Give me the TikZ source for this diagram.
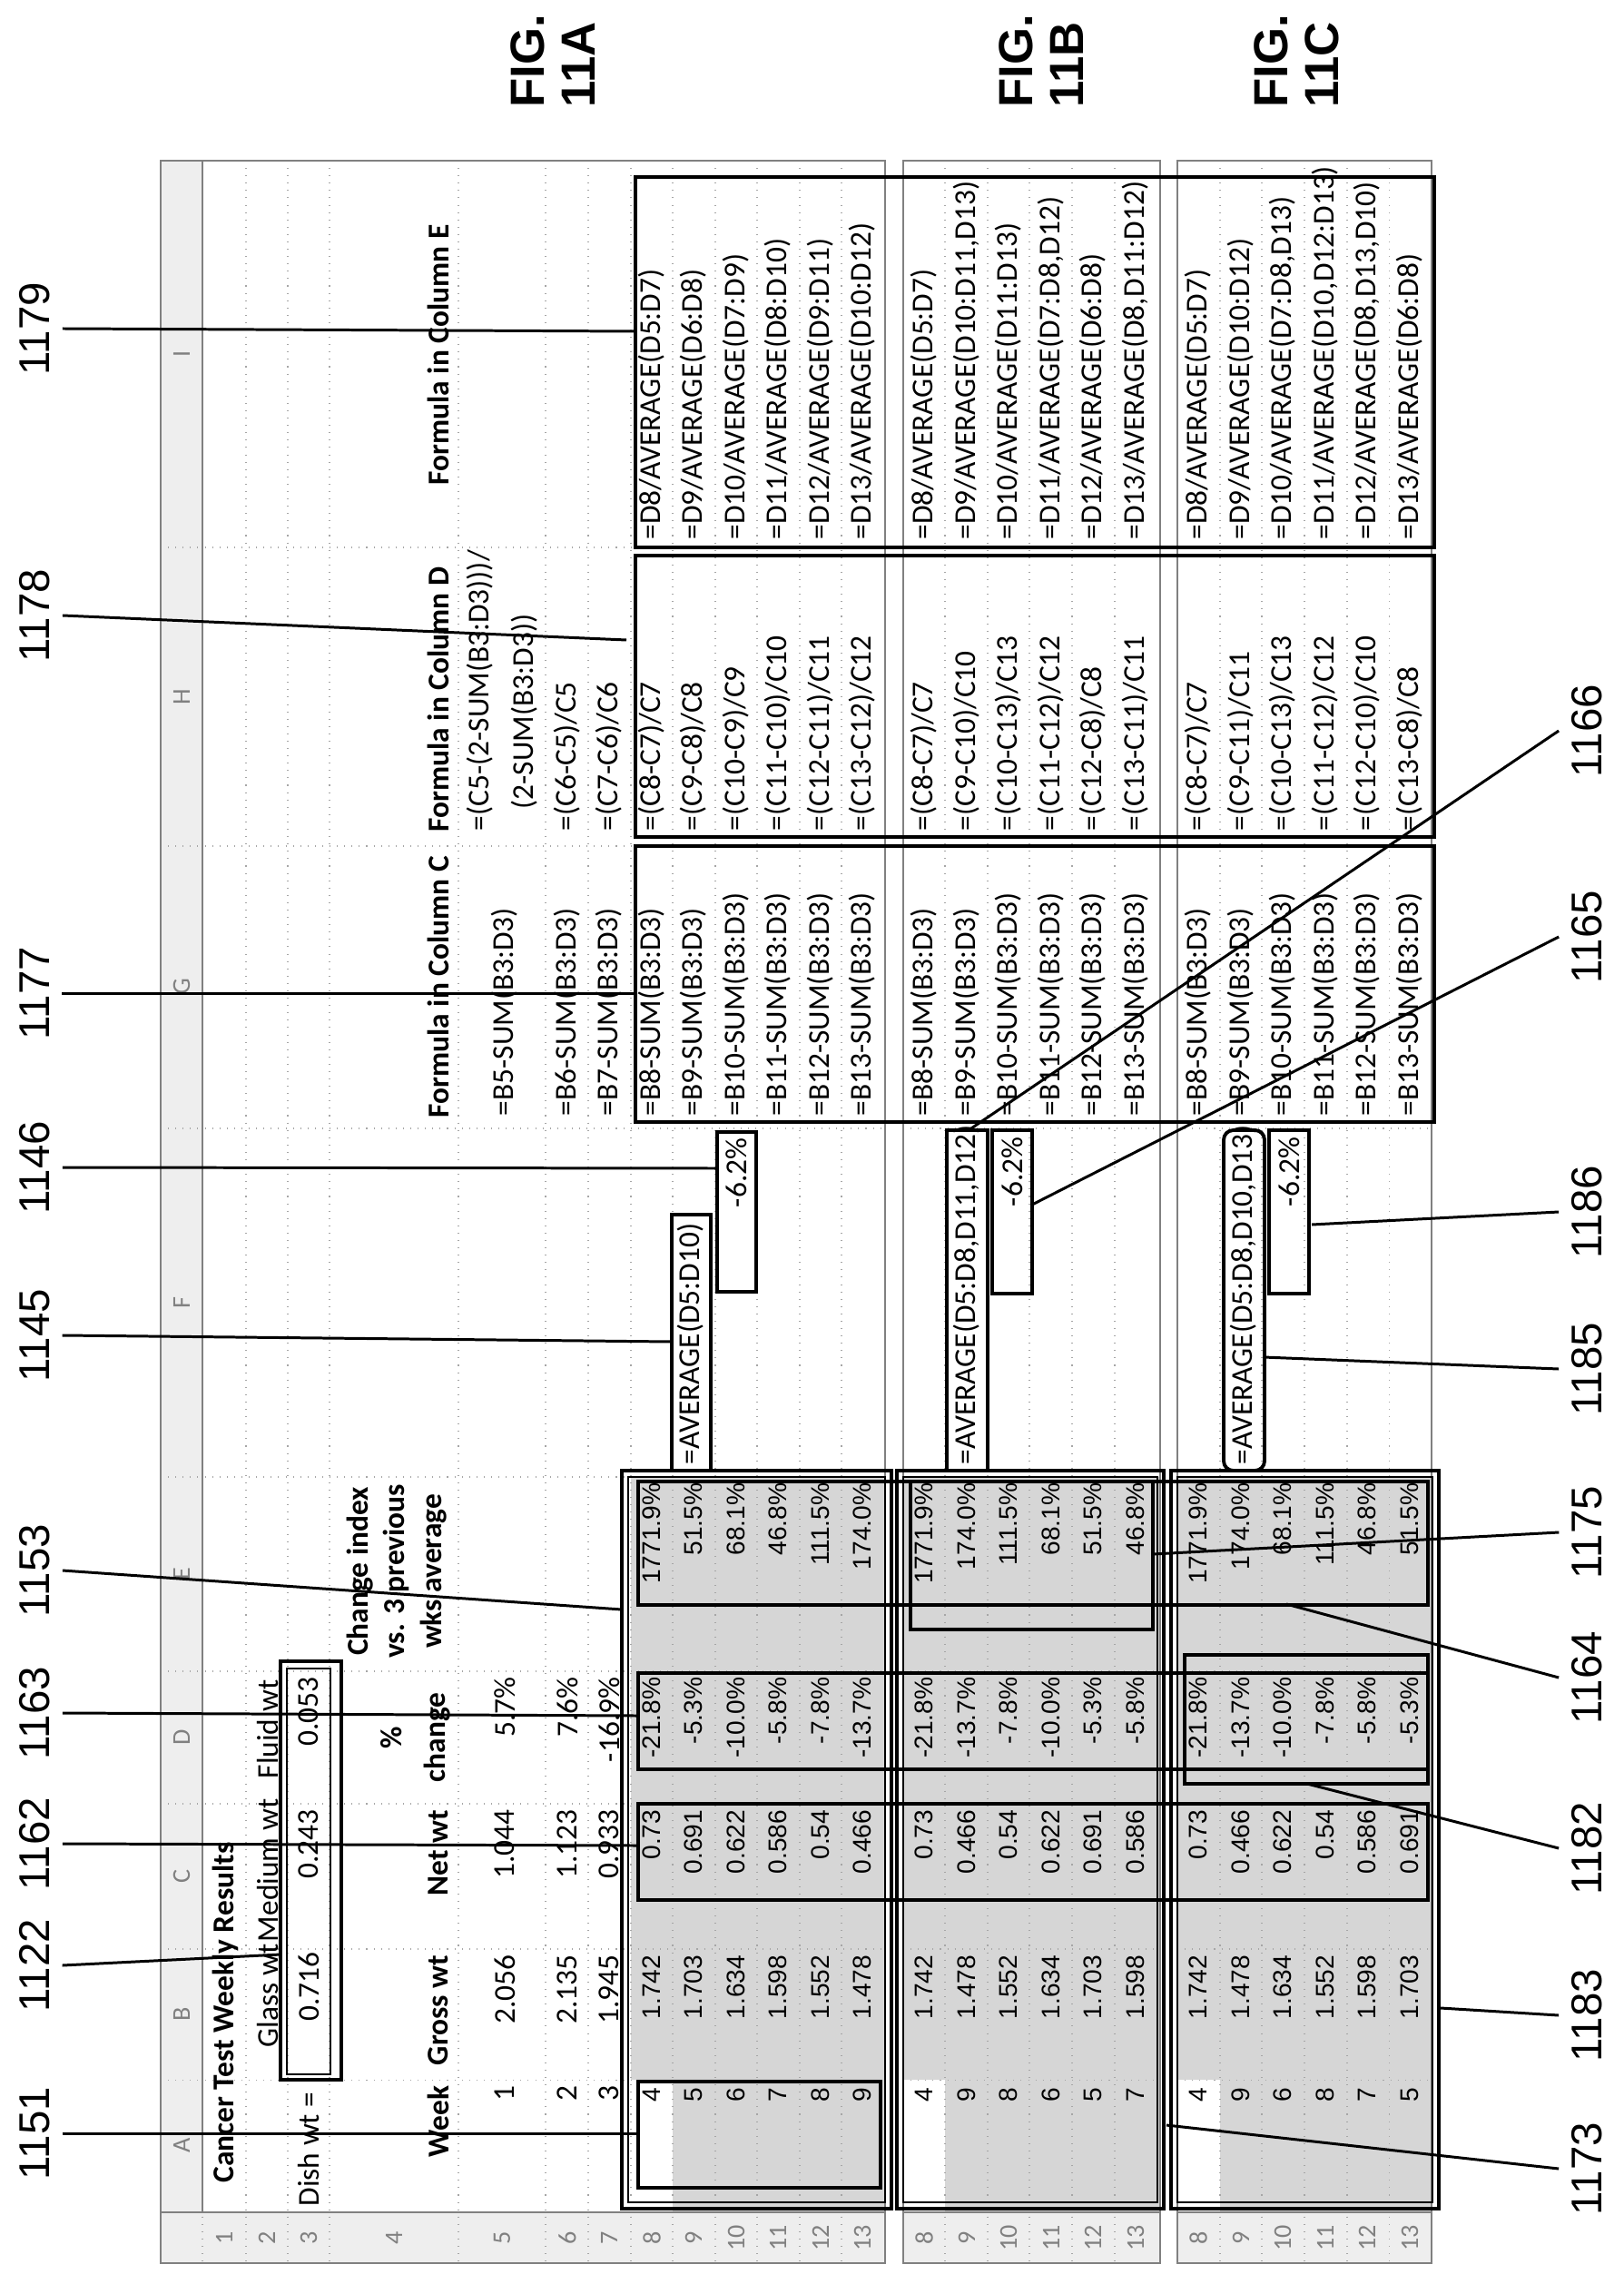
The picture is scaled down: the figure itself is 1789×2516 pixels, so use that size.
\documentclass[tikz,border=0pt]{standalone}
\usepackage{fontspec}
\newfontfamily\carl{Carlito}
\newfontfamily\lib{Liberation Sans}
\newcommand\cellf{\carl\fontsize{9.5}{11.5}\selectfont}
\newcommand\numf{\lib\fontsize{8}{10}\selectfont}
\newcommand\lblf{\lib\fontsize{13.5}{16}\selectfont}
\newcommand\figf{\lib\bfseries\fontsize{15}{16}\selectfont}
\begin{document}
\begin{tikzpicture}[x=0.01cm,y=-0.01cm,
  cl/.style={font=\cellf,inner sep=0pt,rotate=90},
  hd/.style={font=\cellf\bfseries,inner sep=0pt,rotate=90},
  nm/.style={font=\numf,inner sep=0pt,rotate=90,anchor=east},
  gl/.style={font=\carl\fontsize{8}{9}\selectfont,text=gray,inner sep=0pt,rotate=90},
  lbl/.style={font=\lblf,inner sep=0pt,outer sep=4pt,rotate=90},
  bx/.style={draw,line width=1.1pt},
  ld/.style={line width=0.85pt},
  grd/.style={gray!70,dotted,line width=0.3pt},
  hfill/.style={fill=gray!13},
  shd/.style={fill=gray!32}]
\useasboundingbox (0,0) rectangle (1789,2516);
% ---------- shading
\fill[shd] (695,1627) rectangle (975,2437);
\fill[white] (695,2291) rectangle (741,2437);
\fill[shd] (995,1627) rectangle (1278,2437);
\fill[white] (995,2291) rectangle (1041,2437);
\fill[shd] (1297,1627) rectangle (1577,2437);
\fill[white] (1297,2291) rectangle (1344,2437);
% ---------- header strips
\fill[hfill] (177,177) rectangle (223,2437);
\fill[hfill] (177,2437) rectangle (975,2493);
\fill[hfill] (995,2437) rectangle (1278,2493);
\fill[hfill] (1297,2437) rectangle (1577,2493);
% ---------- grid
\foreach \yy in {2291,2147,1987,1841,1627,1243,932,603}{
  \draw[grd] (177,\yy) -- (975,\yy);
  \draw[grd] (995,\yy) -- (1278,\yy);
  \draw[grd] (1297,\yy) -- (1577,\yy);}
\foreach \xx in {223,271,317,363,505,601,648,695,741,788,834,881,927}
  \draw[grd] (\xx,177) -- (\xx,2493);
\foreach \xx in {1041,1088,1134,1181,1228}
  \draw[grd] (\xx,177) -- (\xx,2493);
\foreach \xx in {1344,1390,1437,1484,1530}
  \draw[grd] (\xx,177) -- (\xx,2493);
\draw[gray,line width=0.4pt] (177,177) rectangle (975,2493);
\draw[gray,line width=0.4pt] (995,177) rectangle (1278,2493);
\draw[gray,line width=0.4pt] (1297,177) rectangle (1577,2493);
\draw[gray,line width=0.4pt] (177,2437) -- (975,2437) (995,2437) -- (1278,2437) (1297,2437) -- (1577,2437) (223,177) -- (223,2437);
% column letters
\foreach \n/\yy in {A/2363,B/2219,C/2067,D/1914,E/1734,F/1435,G/1087,H/768,I/390}
  \node[gl] (col\n) at (200,\yy) {\n};
% row numbers
\foreach \n/\xx in {1/247,2/294,3/340,4/434,5/553,6/625,7/671,8/718,9/764,10/811,11/857,12/904,13/950}
  \node[gl] (rowa\n) at (\xx,2465) {\n};
\foreach \n/\xx in {8/1018,9/1065,10/1111,11/1158,12/1204,13/1251}
  \node[gl] (rowb\n) at (\xx,2465) {\n};
\foreach \n/\xx in {8/1320,9/1367,10/1413,11/1460,12/1506,13/1553}
  \node[gl] (rowc\n) at (\xx,2465) {\n};
% ---------- rows 1-7
\node[hd,anchor=west] (title) at (248,2405) {Cancer Test Weekly Results};
\node[cl,anchor=east] (glass) at (295,2141) {Glass wt};
\node[cl,anchor=east] (medium) at (295,1981) {Medium wt};
\node[cl,anchor=east] (fluid) at (295,1850) {Fluid wt};
\node[cl,anchor=west] (dish) at (340,2431) {Dish wt =};
\node[cl,anchor=east] (v716) at (340,2150) {0.716};
\node[cl,anchor=east] (v243) at (340,1993) {0.243};
\node[cl,anchor=east] (v053) at (340,1847) {0.053};
\node[hd,anchor=east] (hweek) at (483,2297) {Week};
\node[hd,anchor=east] (hgross) at (483,2153) {Gross wt};
\node[hd,anchor=east] (hnet) at (483,1993) {Net wt};
\node[hd,align=center] (hchg) at (458,1914) {\%\\[2pt]change};
\node[hd,align=center] (hidx) at (437,1731) {Change index\\vs. 3 previous\\wks average};
\node[hd,anchor=west] (hfc) at (483,1232) {Formula in Column C};
\node[hd,anchor=west] (hfd) at (483,917) {Formula in Column D};
\node[hd,anchor=west] (hfe) at (483,535) {Formula in Column E};
\foreach \r/\xx/\a/\b/\c/\d in {5/556/1/2.056/1.044/5.7\%, 6/625/2/2.135/1.123/7.6\%, 7/671/3/1.945/0.933/-16.9\%}{
  \node[cl,anchor=east] (ra\r) at (\xx,2297) {\a};
  \node[cl,anchor=east] (rb\r) at (\xx,2153) {\b};
  \node[cl,anchor=east] (rc\r) at (\xx,1993) {\c};
  \node[cl,anchor=east] (rd\r) at (\xx,1847) {\d};
  \node[cl,anchor=west] (rg\r) at (\xx,1230) {=B\r-SUM(B3:D3)};}
\node[cl,anchor=west] (rh5a) at (529,916) {=(C5-(2-SUM(B3:D3)))/};
\node[cl,anchor=west] (rh5b) at (578,892) {(2-SUM(B3:D3))};
\node[cl,anchor=west] (rh6) at (625,916) {=(C6-C5)/C5};
\node[cl,anchor=west] (rh7) at (671,916) {=(C7-C6)/C6};
% ---------- sheet 1 data
\foreach \r/\xx/\a/\b/\c/\d/\e in {8/718/4/1.742/0.73/-21.8\%/1771.9\%, 9/764/5/1.703/0.691/-5.3\%/51.5\%, 10/811/6/1.634/0.622/-10.0\%/68.1\%, 11/857/7/1.598/0.586/-5.8\%/46.8\%, 12/904/8/1.552/0.54/-7.8\%/111.5\%, 13/950/9/1.478/0.466/-13.7\%/174.0\%}{
  \node[nm] (pa\r) at (\xx,2299) {\a};
  \node[nm] (pb\r) at (\xx,2153) {\b};
  \node[nm] (pc\r) at (\xx,1993) {\c};
  \node[nm] (pd\r) at (\xx,1847) {\d};
  \node[nm] (pe\r) at (\xx,1633) {\e};}
\foreach \r/\xx/\h/\ff in {8/718/{=(C8-C7)/C7}/{=D8/AVERAGE(D5:D7)}, 9/764/{=(C9-C8)/C8}/{=D9/AVERAGE(D6:D8)}, 10/811/{=(C10-C9)/C9}/{=D10/AVERAGE(D7:D9)}, 11/857/{=(C11-C10)/C10}/{=D11/AVERAGE(D8:D10)}, 12/904/{=(C12-C11)/C11}/{=D12/AVERAGE(D9:D11)}, 13/950/{=(C13-C12)/C12}/{=D13/AVERAGE(D10:D12)}}{
  \node[cl,anchor=west] (pg\r) at (\xx,1230) {=B\r-SUM(B3:D3)};
  \node[cl,anchor=west] (ph\r) at (\xx,916) {\h};
  \node[cl,anchor=west] (pi\r) at (\xx,595) {\ff};}
% ---------- sheet 2 data
\foreach \r/\xx/\a/\b/\c/\d/\e in {8/1018/4/1.742/0.73/-21.8\%/1771.9\%, 9/1065/9/1.478/0.466/-13.7\%/174.0\%, 10/1111/8/1.552/0.54/-7.8\%/111.5\%, 11/1158/6/1.634/0.622/-10.0\%/68.1\%, 12/1204/5/1.703/0.691/-5.3\%/51.5\%, 13/1251/7/1.598/0.586/-5.8\%/46.8\%}{
  \node[nm] (qa\r) at (\xx,2299) {\a};
  \node[nm] (qb\r) at (\xx,2153) {\b};
  \node[nm] (qc\r) at (\xx,1993) {\c};
  \node[nm] (qd\r) at (\xx,1847) {\d};
  \node[nm] (qe\r) at (\xx,1633) {\e};}
\foreach \r/\xx/\h/\ff in {8/1018/{=(C8-C7)/C7}/{=D8/AVERAGE(D5:D7)}, 9/1065/{=(C9-C10)/C10}/{=D9/AVERAGE(D10:D11,D13)}, 10/1111/{=(C10-C13)/C13}/{=D10/AVERAGE(D11:D13)}, 11/1158/{=(C11-C12)/C12}/{=D11/AVERAGE(D7:D8,D12)}, 12/1204/{=(C12-C8)/C8}/{=D12/AVERAGE(D6:D8)}, 13/1251/{=(C13-C11)/C11}/{=D13/AVERAGE(D8,D11:D12)}}{
  \node[cl,anchor=west] (qg\r) at (\xx,1230) {=B\r-SUM(B3:D3)};
  \node[cl,anchor=west] (qh\r) at (\xx,916) {\h};
  \node[cl,anchor=west] (qi\r) at (\xx,595) {\ff};}
% ---------- sheet 3 data
\foreach \r/\xx/\a/\b/\c/\d/\e in {8/1320/4/1.742/0.73/-21.8\%/1771.9\%, 9/1367/9/1.478/0.466/-13.7\%/174.0\%, 10/1413/6/1.634/0.622/-10.0\%/68.1\%, 11/1460/8/1.552/0.54/-7.8\%/111.5\%, 12/1506/7/1.598/0.586/-5.8\%/46.8\%, 13/1553/5/1.703/0.691/-5.3\%/51.5\%}{
  \node[nm] (sa\r) at (\xx,2299) {\a};
  \node[nm] (sb\r) at (\xx,2153) {\b};
  \node[nm] (sc\r) at (\xx,1993) {\c};
  \node[nm] (sd\r) at (\xx,1847) {\d};
  \node[nm] (se\r) at (\xx,1633) {\e};}
\foreach \r/\xx/\h/\ff in {8/1320/{=(C8-C7)/C7}/{=D8/AVERAGE(D5:D7)}, 9/1367/{=(C9-C11)/C11}/{=D9/AVERAGE(D10:D12)}, 10/1413/{=(C10-C13)/C13}/{=D10/AVERAGE(D7:D8,D13)}, 11/1460/{=(C11-C12)/C12}/{=D11/AVERAGE(D10,D12:D13)}, 12/1506/{=(C12-C10)/C10}/{=D12/AVERAGE(D8,D13,D10)}, 13/1553/{=(C13-C8)/C8}/{=D13/AVERAGE(D6:D8)}}{
  \node[cl,anchor=west] (sg\r) at (\xx,1230) {=B\r-SUM(B3:D3)};
  \node[cl,anchor=west] (sh\r) at (\xx,916) {\h};
  \node[cl,anchor=west] (si\r) at (\xx,595) {\ff};}
% ---------- F column boxes
\draw[bx] (740,1338) rectangle (783,1620);
\node[cl,anchor=west] (pavg) at (761,1614) {=AVERAGE(D5:D10)};
\draw[bx] (790,1247) rectangle (833,1423);
\node[cl,anchor=east] (pm) at (811,1253) {-6.2\%};
\draw[bx] (1043,1245) rectangle (1088,1620);
\node[cl,anchor=west] (qavg) at (1065,1614) {=AVERAGE(D5:D8,D11,D12)};
\draw[bx] (1093,1245) rectangle (1137,1425);
\node[cl,anchor=east] (qm) at (1115,1252) {-6.2\%};
\draw[bx,rounded corners=3pt] (1348,1245) rectangle (1393,1620);
\node[cl,anchor=west] (savg) at (1370,1614) {=AVERAGE(D5:D8,D10,D13)};
\draw[bx] (1398,1245) rectangle (1442,1425);
\node[cl,anchor=east] (sm) at (1420,1252) {-6.2\%};
% ---------- long formula boxes
\draw[bx] (700,195) rectangle (1580,603);
\draw[bx] (700,612) rectangle (1580,922);
\draw[bx] (700,932) rectangle (1580,1236);
% ---------- 1122 box
\draw[bx] (309,1830) rectangle (376,2291);
\draw[line width=0.6pt] (316,1838) rectangle (364,2285);
% ---------- big double boxes
\foreach \xa/\xb in {685/982,988/1282,1290/1585}{
  \draw[bx] (\xa,1620) rectangle (\xb,2433);
  \draw[line width=0.5pt] (\xa+7,1627) rectangle (\xb-7,2426);}
% ---------- column boxes
\draw[bx] (703,1632) rectangle (1573,1768);
\draw[bx] (703,1843) rectangle (1573,1949);
\draw[bx] (703,1987) rectangle (1573,2093);
\draw[bx] (1003,1632) rectangle (1270,1795);
\draw[bx] (1305,1823) rectangle (1573,1965);
\draw[bx] (703,2293) rectangle (970,2410);
% ---------- FIG labels
\node[font=\figf,rotate=90,align=left,inner sep=0pt] (figA) at (609,67) {FIG.\\11A};
\node[font=\figf,rotate=90,align=left,inner sep=0pt] (figB) at (1147,67) {FIG.\\11B};
\node[font=\figf,rotate=90,align=left,inner sep=0pt] (figC) at (1428,67) {FIG.\\11C};
% ---------- left labels and leaders
\foreach \n/\yy/\ex/\ey in {1179/362/700/365, 1178/678/690/705, 1177/1094/700/1094, 1146/1286/790/1287, 1145/1471/740/1478, 1153/1730/685/1773, 1163/1887/703/1890, 1162/2031/703/2033, 1122/2165/309/2153, 1151/2350/703/2350}{
  \node[lbl] (L\n) at (38,\yy) {\n};
  \coordinate (LE\n) at (\ex,\ey);
  \draw[ld] (L\n.south) -- (LE\n);}
% ---------- right labels and leaders
\foreach \n/\yy/\ex/\ey in {1166/805/1067/1245, 1165/1032/1137/1327, 1186/1335/1445/1349, 1185/1508/1392/1495, 1175/1688/1270/1712, 1164/1848/1417/1767, 1182/2036/1440/1965, 1183/2220/1587/2212, 1173/2389/1285/2341}{
  \node[lbl] (R\n) at (1748,\yy) {\n};
  \coordinate (RE\n) at (\ex,\ey);
  \draw[ld] (R\n.north) -- (RE\n);}
\end{tikzpicture}
\end{document}
